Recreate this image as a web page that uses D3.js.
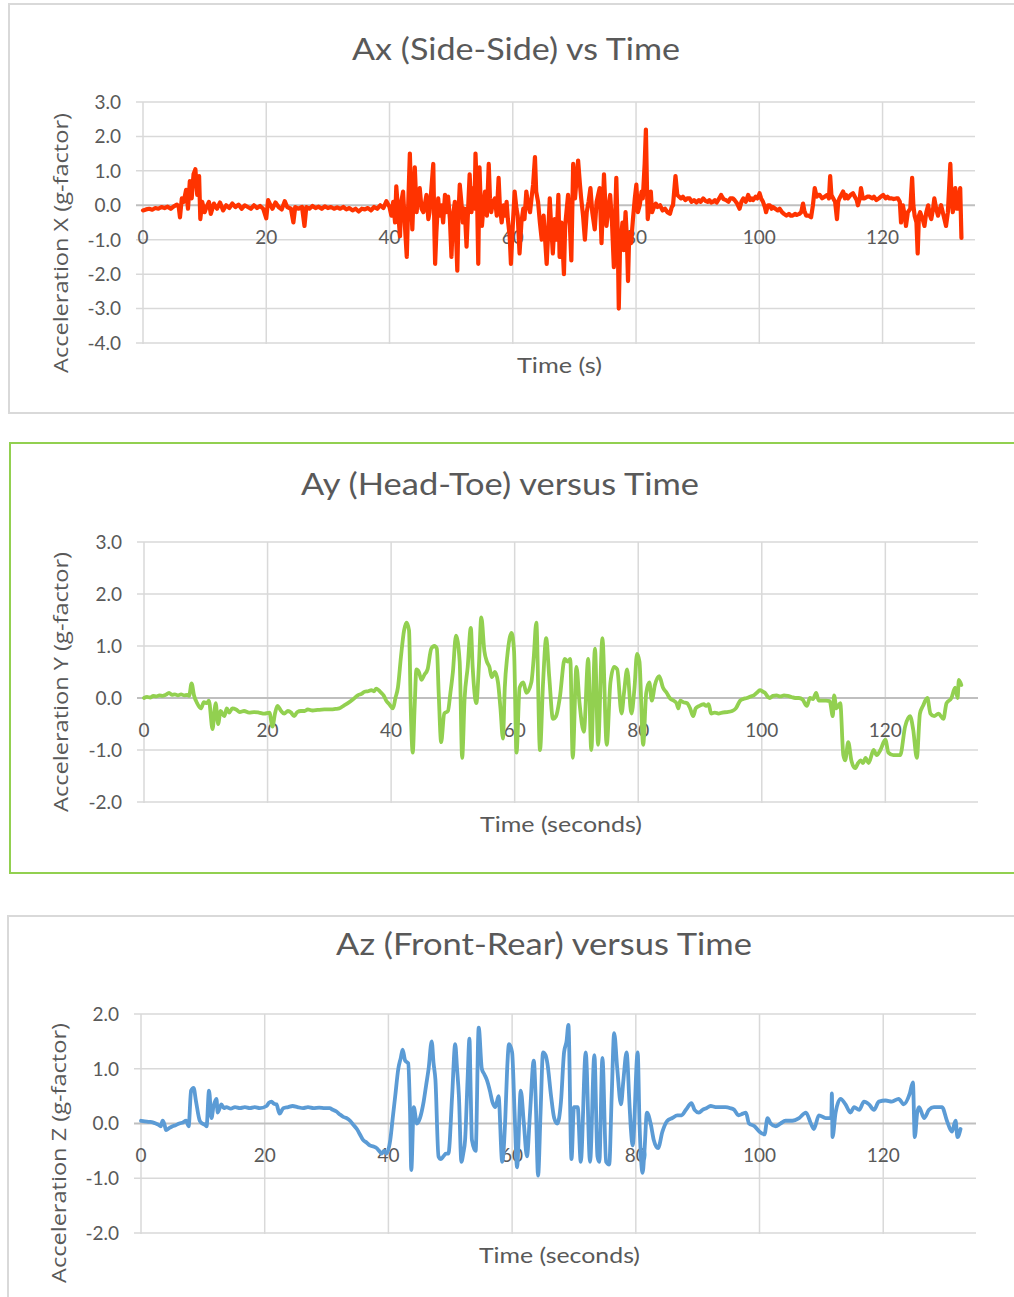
<!DOCTYPE html>
<html><head><meta charset="utf-8">
<script src="https://cdn.jsdelivr.net/npm/d3@7"></script>
<style>body{margin:0;background:#fff}svg{display:block}</style>
</head><body>
<svg id="c" width="1014" height="1297"></svg>
<script>
// ---------- DATA (time in s, acceleration in g) ----------
const axSeries = [
[0,-0.15],[0.5,-0.12],[1,-0.1],[1.5,-0.13],[2,-0.08],[2.5,-0.1],[3,-0.05],[3.5,-0.08],[4,-0.04],[4.5,-0.1],[5,-0.03],[5.5,0.02],[5.8,-0.05],[6,-0.35],[6.3,0.2],[6.6,0.1],[7,0.45],[7.3,-0.1],[7.6,0.7],[7.9,0.2],[8.2,0.9],[8.5,1.05],[8.8,0.3],[9.1,0.85],[9.3,-0.4],[9.6,0.1],[10,-0.2],[10.3,-0.05],[10.7,0.1],[11,-0.25],[11.5,0.05],[12,-0.1],[12.5,0.08],[13,-0.15],[13.5,0.0],[14,-0.08],[14.5,0.05],[15,-0.05],[15.5,0.02],[16,-0.1],[16.5,0.0],[17,-0.05],[17.5,-0.1],[18,0.0],[18.5,-0.08],[19,-0.02],[19.5,-0.1],[20,-0.38],[20.3,0.15],[20.7,0.0],[21,-0.1],[21.5,0.08],[22,-0.05],[22.5,-0.12],[23,0.12],[23.4,-0.05],[24,-0.1],[24.4,-0.5],[24.7,-0.05],[25.2,-0.1],[25.8,-0.05],[26.2,-0.6],[26.5,-0.05],[27,-0.1],[27.5,-0.02],[28,-0.08],[28.5,-0.04],[29,-0.1],[29.5,-0.03],[30,-0.08],[30.5,-0.05],[31,-0.1],[31.5,-0.06],[32,-0.1],[32.5,-0.05],[33,-0.12],[33.5,-0.08],[34,-0.15],[34.5,-0.1],[35,-0.18],[35.5,-0.1],[36,-0.12],[36.5,-0.08],[37,-0.15],[37.5,-0.05],[38,-0.1],[38.5,0.0],[39,-0.08],[39.5,0.12],
[40.0,-0.05],[40.3,-0.3],[40.6,0.1],[40.9,-0.5],[41.1,0.55],[41.4,-0.2],[41.7,-0.9],[41.9,0.1],[42.2,0.4],[42.5,-0.6],[42.8,-1.5],[43.0,-0.2],[43.3,1.5],[43.5,0.2],[43.7,-0.7],[43.9,0.3],[44.1,1.1],[44.4,-0.2],[44.6,0.2],[44.9,0.5],[45.2,-0.1],[45.5,-0.2],[45.8,0.1],[46.0,0.3],[46.3,-0.4],[46.5,-0.2],[46.8,0.5],[47.1,1.2],[47.3,-0.9],[47.4,-1.7],[47.6,-0.8],[47.9,0.2],[48.1,-0.3],[48.4,0.0],[48.7,-0.5],[49.0,0.3],[49.2,-0.2],[49.5,0.25],[49.8,-0.4],[50.05,-1.5],[50.3,-0.3],[50.6,0.1],[50.8,-0.9],[51.0,-1.9],[51.2,-0.2],[51.4,0.6],[51.7,0.0],[51.9,-0.5],[52.2,-0.1],[52.5,-1.2],[52.8,0.1],[53.0,0.9],[53.3,-0.2],[53.6,0.5],[53.8,-0.1],[53.95,1.5],[54.2,0.3],[54.4,-1.7],[54.6,1.1],[54.8,0.0],[55.0,-0.6],[55.3,0.1],[55.5,0.4],[55.8,-0.3],[56.1,1.2],[56.3,0.2],[56.5,-0.2],[56.8,0.1],[57.1,0.2],[57.4,-0.3],[57.7,0.8],[57.9,0.0],[58.2,-0.5],[58.5,0.0],[58.7,-0.3],[59.0,0.1],[59.2,-0.4],[59.5,-0.9],[59.7,-1.7],[60.0,-0.6],[60.3,0.4],[60.6,-0.1],[60.8,-0.3],[61.1,-1.4],[61.4,-0.5],[61.7,-0.1],[61.9,-0.4],[62.2,0.4],[62.5,0.0],[62.8,-0.2],[63.1,0.3],[63.3,0.6],[63.6,1.4],[63.8,0.4],[64.1,0.1],[64.4,-0.5],[64.7,-1.0],[65.0,-0.3],[65.5,-1.7],[65.8,-0.6],[66.0,0.2],[66.2,-0.5],[66.5,-1.4],[66.8,-0.4],[67.1,-1.0],[67.4,0.3],[67.6,-1.5],[67.9,-0.5],[68.3,-2.0],[68.5,-0.6],[68.97,0.3],[69.2,-0.3],[69.5,-1.6],[69.8,1.2],[70.1,0.2],[70.6,1.3],
[70.9,0.6],[71.1,0.2],[71.4,-0.3],[71.7,-1.0],[72.0,-0.2],[72.3,0.1],[72.6,0.5],[72.9,-0.2],[73.3,-0.7],[73.6,0.1],[74.1,0.5],[74.4,-1.1],[74.8,0.9],[75.0,0.1],[75.2,-0.6],[75.5,-0.1],[75.8,0.3],[76.1,-0.5],[76.4,-1.8],[76.6,-0.4],[76.8,0.8],[77.0,-0.6],[77.2,-3.0],[77.4,-1.2],[77.8,-0.5],[78.0,-1.3],[78.3,-0.2],[78.5,-0.9],[78.7,-2.2],[78.9,-0.8],[79.2,-1.1],[79.5,-0.4],[79.8,0.2],[80.05,0.6],[80.3,-0.2],[80.6,0.0],[80.9,0.4],[81.1,0.2],[81.4,1.2],[81.6,2.2],[81.8,0.3],[81.9,-0.4],[82.2,0.1],[82.4,0.4],[82.6,-0.2],[82.8,-0.1],[83.2,0.05],[83.5,-0.05],[83.9,0.0],[84.3,-0.15],[84.7,-0.1],[85.1,-0.2],[85.5,-0.25],[85.8,-0.05],[86.0,0.0],[86.4,0.85],[86.7,0.3],[87.0,0.25],[87.3,0.2],[87.6,0.25],[88.0,0.15],[88.3,0.2],[88.7,0.2],[89.0,0.1],[89.4,0.15],[89.8,0.08],[90.2,0.15],[90.5,0.1],[90.9,0.2],[91.3,0.12],[91.6,0.1],[91.9,0.15],[92.2,0.08],[92.5,0.1],[92.8,0.15],[93.1,0.08],[93.5,0.2],[93.8,0.3],[94.2,0.18],[94.6,0.15],[95.0,0.1],[95.3,0.2],[95.7,0.2],[96.0,0.15],[96.4,0.05],[96.8,-0.1],[97.1,0.1],[97.4,0.2],[97.8,0.1],[98.2,0.3],[98.5,0.15],[98.8,0.2],[99.0,0.15],[99.4,0.25],[99.7,0.2],[100.05,0.35],[100.3,0.2],[100.6,0.1],[100.9,-0.05],[101.1,-0.2],[101.4,0.0],[101.7,0.0],[102.0,-0.1],[102.2,-0.05],[102.6,-0.1],[103.0,-0.15],[103.3,-0.1],[103.7,-0.2],[104.0,-0.25],[104.4,-0.3],[104.8,-0.25],[105.1,-0.3],[105.4,-0.3],[105.8,-0.25],[106.1,-0.28],[106.5,-0.25],[106.8,-0.2],[107.1,0.05],[107.3,-0.15],[107.6,-0.3],[108.0,-0.3],[108.4,-0.35],[108.7,0.0],[109.0,0.5],[109.3,0.25],[109.6,0.3],[109.8,0.3],[110.2,0.2],[110.6,0.25],[111.0,0.3],[111.3,0.2],[111.5,0.85],[111.7,0.3],[112.0,0.2],[112.3,0.1],[112.6,-0.4],[112.8,0.1],[113.0,0.2],[113.3,0.3],[113.6,0.4],[113.9,0.2],[114.1,0.3],[114.4,0.2],[114.8,0.3],[115.2,0.35],[115.5,0.25],[115.8,0.15],[116.0,0.0],[116.3,0.2],[116.5,0.5],[116.8,0.2],[117.1,0.2],[117.5,0.25],[117.9,0.25],[118.3,0.2],[118.6,0.25],[119.0,0.15],[119.4,0.2],[119.7,0.25],[120.1,0.3],[120.5,0.2],[120.8,0.25],[121.1,0.2],[121.5,0.2],[121.8,0.18],[122.2,0.2],[122.5,0.2],[122.8,0.1],[123.0,-0.5],[123.2,-0.1],[123.3,0.0],[123.6,-0.3],[123.8,-0.6],[124.1,-0.2],[124.5,-0.1],[124.8,0.8],[125.0,0.0],[125.2,-0.3],[125.5,-0.5],[125.7,-1.4],[125.9,-0.3],[126.1,-0.2],[126.5,-0.4],[126.8,-0.6],[127.1,-0.2],[127.4,0.0],[127.7,-0.3],[127.9,-0.4],[128.2,-0.1],[128.4,0.2],[128.7,-0.1],[129.0,-0.3],[129.3,-0.1],[129.5,0.0],[129.9,-0.3],[130.3,-0.6],[130.6,-0.2],[131.0,1.2],[131.2,0.1],[131.4,-0.2],[131.6,0.2],[131.8,0.5],[132.0,-0.1],[132.2,-0.1],[132.4,0.3],[132.6,0.5],[132.8,-0.95]
];

const aySeries = [
[0,0.0],[0.5,0.02],[1,0.01],[1.5,0.04],[2,0.03],[2.5,0.05],[3,0.04],[3.5,0.06],[4.05,0.1],[4.5,0.06],[5,0.07],[5.5,0.05],[6,0.07],[6.5,0.05],[7,0.06],[7.3,0.04],[7.7,0.28],[8.1,0.05],[8.6,-0.1],[9.2,-0.2],[9.7,-0.08],[10.2,-0.1],[10.5,-0.05],[11.1,-0.6],[11.4,-0.25],[11.6,-0.1],[12.0,-0.5],[12.4,-0.25],[13.0,-0.35],[13.4,-0.2],[13.8,-0.28],[14.3,-0.2],[14.9,-0.22],[15.5,-0.27],[16.2,-0.25],[17.0,-0.28],[17.8,-0.27],[18.6,-0.28],[19.5,-0.3],[20.3,-0.28],[20.8,-0.55],[21.2,-0.3],[21.6,-0.15],[22.2,-0.25],[22.7,-0.3],[23.3,-0.25],[23.8,-0.28],[24.3,-0.35],[24.8,-0.27],[25.4,-0.25],[26.0,-0.25],[26.5,-0.22],[27.3,-0.24],[28.1,-0.23],[29.2,-0.22],[30.3,-0.22],[31.0,-0.21],[31.6,-0.2],[32.3,-0.15],[33.0,-0.1],[33.8,-0.03],[34.6,0.05],[35.2,0.08],[35.7,0.12],[36.3,0.13],[36.8,0.15],[37.2,0.13],[37.6,0.18],[38.0,0.15],[38.4,0.1],[38.8,0.05],[39.2,-0.05],[39.7,-0.12],[40.3,-0.2],[40.7,0.0],[41.1,0.2],[41.6,0.8],[42.1,1.3],[42.5,1.45],[42.9,1.3],[43.2,-0.3],[43.5,-1.05],[43.8,-0.2],[44.1,0.55],[44.5,0.5],[44.9,0.35],[45.4,0.45],[45.9,0.55],[46.5,0.95],[47.0,1.0],[47.4,0.95],[47.7,0.1],[48.1,-0.85],[48.6,-0.3],[49.2,-0.25],[49.6,0.1],[50.0,0.5],[50.5,1.2],[51.1,0.7],[51.5,-1.15],[51.9,0.0],[52.4,0.6],[52.9,1.35],[53.2,0.6],[53.8,-0.1],[54.2,0.6],[54.6,1.55],[55.1,0.9],[55.5,0.7],[55.9,0.6],[56.3,0.4],[56.8,0.5],[57.3,0.3],[57.7,-0.2],[58.1,-0.78],[58.4,0.2],[58.8,0.8],[59.5,1.25],[59.9,0.9],[60.3,-1.05],[60.8,0.2],[61.4,0.3],[61.9,0.1],[62.7,0.3],[63.1,0.8],[63.5,1.45],[64.1,-1.0],[64.6,0.3],[65.1,1.15],[65.6,0.4],[66.2,-0.4],[66.7,-0.35],[67.3,0.0],[68.1,0.75],[68.6,0.7],[69.0,0.75],[69.4,-1.15],[70.0,0.6],[70.5,-0.1],[71.2,-0.65],[71.9,0.75],[72.4,-1.0],[73.0,0.95],[73.5,-0.9],[74.2,1.15],[74.9,-0.9],[75.5,0.3],[76.1,0.6],[76.6,0.55],[77.3,-0.3],[77.7,0.1],[78.2,0.55],[78.9,-0.3],[79.4,0.2],[79.8,0.85],[80.2,0.7],[80.8,-0.9],[81.3,0.1],[81.8,0.3],[82.2,-0.05],[82.7,0.25],[83.4,0.42],[84.0,0.2],[84.6,0.1],[85.1,0.0],[85.7,-0.05],[86.2,-0.1],[86.5,-0.2],[86.8,-0.05],[87.3,-0.08],[87.9,-0.1],[88.4,-0.2],[88.9,-0.35],[89.3,-0.2],[89.9,-0.15],[90.6,-0.12],[91.0,-0.15],[91.4,-0.12],[91.8,-0.3],[92.4,-0.28],[93.0,-0.3],[93.6,-0.28],[94.4,-0.27],[95.2,-0.25],[95.8,-0.2],[96.5,-0.05],[97.0,-0.02],[97.6,0.0],[98.2,0.03],[98.7,0.05],[99.2,0.1],[99.7,0.15],[100.2,0.12],[100.5,0.1],[101.0,0.02],[101.3,0.0],[101.8,0.04],[102.4,0.05],[103.0,0.03],[103.6,0.05],[104.2,0.04],[104.8,0.02],[105.4,0.0],[106.0,0.0],[106.6,-0.03],[107.3,-0.15],[107.8,0.0],[108.3,-0.02],[108.8,0.1],[109.2,-0.05],[109.8,-0.05],[110.4,-0.05],[111.0,-0.06],[111.5,-0.35],[111.7,0.05],[112.1,-0.2],[112.7,-0.1],[113.2,-1.1],[113.5,-1.2],[114.0,-0.85],[114.5,-1.2],[115.1,-1.35],[115.6,-1.25],[116.0,-1.2],[116.4,-1.25],[116.8,-1.15],[117.3,-1.25],[118.1,-1.0],[118.6,-1.1],[119.2,-1.0],[120.0,-0.8],[120.5,-1.05],[121.3,-1.1],[122.4,-1.1],[123.2,-0.55],[124.0,-0.35],[124.5,-0.6],[125.1,-1.15],[125.6,-0.3],[126.1,-0.15],[126.8,0.0],[127.3,-0.3],[127.9,-0.35],[128.6,-0.3],[129.4,-0.4],[129.9,-0.1],[130.7,0.0],[131.3,0.2],[131.7,0.0],[131.9,0.35],[132.3,0.25]
];

const azSeries = [
[0,0.05],[0.6,0.04],[1.35,0.03],[1.9,0.02],[2.4,0.0],[2.8,-0.02],[3.2,-0.05],[3.5,0.05],[3.8,-0.02],[4.05,-0.12],[4.6,-0.08],[5.1,-0.05],[5.6,-0.03],[6.2,0.0],[6.8,0.02],[7.3,0.05],[7.7,-0.05],[8.1,0.6],[8.5,0.65],[8.9,0.4],[9.5,0.05],[9.9,0.0],[10.3,-0.02],[10.6,-0.05],[11.0,0.6],[11.4,0.1],[11.7,0.3],[12.2,0.45],[12.4,0.2],[13.0,0.35],[13.4,0.28],[13.8,0.3],[14.5,0.27],[15.2,0.3],[16.0,0.28],[16.8,0.3],[17.6,0.28],[18.4,0.3],[19.2,0.28],[20.3,0.32],[20.7,0.38],[21.1,0.4],[21.5,0.36],[21.9,0.35],[22.4,0.18],[23.0,0.28],[23.8,0.3],[24.5,0.32],[25.3,0.3],[26.2,0.28],[27.0,0.3],[27.9,0.28],[28.8,0.29],[29.7,0.28],[30.5,0.28],[31.0,0.25],[31.6,0.22],[32.1,0.17],[32.7,0.12],[33.2,0.1],[33.8,0.05],[34.3,-0.02],[34.9,-0.1],[35.4,-0.2],[35.9,-0.3],[36.5,-0.35],[37.0,-0.4],[37.6,-0.42],[38.1,-0.45],[38.5,-0.5],[38.9,-0.55],[39.3,-0.5],[39.7,-0.55],[40.3,-0.3],[40.7,0.1],[41.1,0.5],[41.6,1.0],[42.0,1.2],[42.3,1.35],[42.7,1.15],[43.2,1.1],[43.5,0.2],[43.7,-0.85],[44.1,0.3],[44.6,0.0],[45.1,0.1],[45.7,0.4],[46.1,0.7],[46.5,1.0],[47.0,1.5],[47.3,1.1],[47.6,0.8],[48.1,-0.6],[48.5,-0.65],[48.9,-0.6],[49.3,-0.55],[49.7,-0.55],[50.3,0.5],[50.8,1.45],[51.1,1.0],[51.4,0.5],[51.8,-0.7],[52.1,-0.55],[52.4,-0.3],[52.8,0.8],[53.1,1.55],[53.3,0.6],[53.5,-0.3],[54.1,-0.5],[54.6,1.75],[55.1,1.0],[55.5,0.9],[55.9,0.8],[56.4,0.6],[56.8,0.4],[57.3,0.3],[57.8,0.5],[58.4,-0.7],[58.9,0.1],[59.2,1.0],[59.5,1.45],[60.0,1.3],[60.4,0.2],[60.8,-0.8],[61.4,0.6],[61.9,0.0],[62.4,-0.6],[62.9,0.2],[63.5,1.15],[63.8,0.5],[64.2,-0.95],[64.6,0.2],[65.0,1.3],[65.4,1.25],[65.7,1.1],[66.3,0.5],[66.8,0.1],[67.3,0.0],[67.9,0.4],[68.4,1.3],[68.8,1.5],[69.1,1.8],[69.6,-0.65],[70.0,0.3],[70.6,0.3],[71.1,-0.7],[71.9,1.3],[72.6,-0.7],[73.3,1.25],[73.8,-0.6],[74.1,-0.7],[74.6,1.2],[75.2,-0.7],[75.7,-0.75],[76.1,0.5],[76.5,1.65],[77.0,1.0],[77.6,0.35],[78.0,0.8],[78.5,1.3],[79.0,0.3],[79.2,-0.1],[79.5,-0.4],[80.3,1.3],[80.6,0.0],[81.1,-0.9],[81.4,-0.5],[81.8,0.2],[82.4,0.0],[82.9,-0.3],[83.6,-0.45],[84.3,-0.15],[85.1,0.05],[85.9,0.1],[86.7,0.15],[87.4,0.15],[88.1,0.25],[89.0,0.37],[89.5,0.25],[90.2,0.2],[90.8,0.25],[91.4,0.28],[92.1,0.32],[92.9,0.3],[93.7,0.3],[94.5,0.3],[95.3,0.28],[95.9,0.25],[96.6,0.15],[97.3,0.18],[97.8,0.2],[98.3,0.0],[99.2,-0.05],[100.0,-0.15],[100.8,-0.2],[101.3,0.1],[101.8,0.0],[102.6,-0.05],[103.4,0.0],[104.2,0.05],[105.3,0.05],[106.4,0.1],[107.5,0.2],[108.3,0.0],[108.8,-0.1],[109.6,0.15],[110.7,0.1],[111.6,0.1],[111.7,0.55],[111.8,-0.25],[112.3,0.2],[113.1,0.45],[113.9,0.35],[114.7,0.2],[115.3,0.3],[116.1,0.25],[116.9,0.4],[117.7,0.35],[118.5,0.25],[119.3,0.4],[120.4,0.42],[121.4,0.4],[122.5,0.45],[123.3,0.35],[124.3,0.55],[124.8,0.75],[125.1,-0.25],[125.5,0.2],[125.8,0.3],[126.6,0.1],[127.4,0.25],[128.2,0.3],[129.0,0.3],[129.5,0.3],[130.3,0.05],[131.1,-0.15],[131.7,0.05],[132.0,-0.25],[132.5,-0.1]
];

const xTicks = [0, 20, 40, 60, 80, 100, 120];
const axYTicks = [3, 2, 1, 0, -1, -2, -3, -4];
const ayYTicks = [3, 2, 1, 0, -1, -2];
const azYTicks = [2, 1, 0, -1, -2];
const chartTitles = ["Ax (Side-Side) vs Time", "Ay (Head-Toe) versus Time", "Az (Front-Rear) versus Time"];
const xAxisTitles = ["Time (s)", "Time (seconds)", "Time (seconds)"];
const yAxisTitles = ["Acceleration X (g-factor)", "Acceleration Y (g-factor)", "Acceleration Z (g-factor)"];
const seriesColors = ["#ff3300", "#92d050", "#5b9bd5"];

// ---------- LAYOUT ----------
const panels = [
  {data: axSeries, yTicks: axYTicks, color: seriesColors[0], title: chartTitles[0], xt: xAxisTitles[0], yt: yAxisTitles[0],
   box: [9, 4, 1030, 409], border: "#d9d9d9",
   x0: 143, x1: 975, yTop: 102, yBot: 343,
   titleX: 516, titleY: 60, titleW: 328, xtX: 559.5, xtY: 373, xtW: 85, ytX: 68, ytY: 243, ytW: 260, sw: 4.2, smooth: false},
  {data: aySeries, yTicks: ayYTicks, color: seriesColors[1], title: chartTitles[1], xt: xAxisTitles[1], yt: yAxisTitles[1],
   box: [10, 443, 1030, 430], border: "#92d050",
   x0: 144, x1: 978, yTop: 542, yBot: 802,
   titleX: 500, titleY: 495, titleW: 398, xtX: 561, xtY: 832, xtW: 162, ytX: 68, ytY: 682, ytW: 260, sw: 3.8, smooth: true},
  {data: azSeries, yTicks: azYTicks, color: seriesColors[2], title: chartTitles[2], xt: xAxisTitles[2], yt: yAxisTitles[2],
   box: [8, 916, 1030, 420], border: "#d9d9d9",
   x0: 141, x1: 976, yTop: 1014, yBot: 1233,
   titleX: 544, titleY: 955, titleW: 416, xtX: 559.5, xtY: 1263, xtW: 161, ytX: 66, ytY: 1153, ytW: 260, sw: 3.8, smooth: true}
];

const svg = d3.select("#c");
svg.append("rect").attr("width", 1014).attr("height", 1297).attr("fill", "#fff");
const txt = "#595959";
const fmt = v => v.toFixed(1);

panels.forEach(p => {
  const g = svg.append("g");
  g.append("rect").attr("x", p.box[0]).attr("y", p.box[1]).attr("width", p.box[2]).attr("height", p.box[3])
    .attr("fill", "#fff").attr("stroke", p.border).attr("stroke-width", 2);

  const yMax = d3.max(p.yTicks), yMin = d3.min(p.yTicks);
  const x = d3.scaleLinear().domain([0, 135]).range([p.x0, p.x1]);
  const y = d3.scaleLinear().domain([yMin, yMax]).range([p.yBot, p.yTop]);

  // horizontal gridlines with outside tick marks
  g.selectAll(".hg").data(p.yTicks.filter(v => v !== 0)).join("line")
    .attr("x1", p.x0 - 7).attr("x2", p.x1).attr("y1", d => y(d)).attr("y2", d => y(d))
    .attr("stroke", "#d9d9d9").attr("stroke-width", 1.5);
  // vertical gridlines
  g.selectAll(".vg").data(xTicks).join("line")
    .attr("x1", d => x(d)).attr("x2", d => x(d)).attr("y1", p.yTop).attr("y2", p.yBot + 1)
    .attr("stroke", "#d9d9d9").attr("stroke-width", 1.5);
  // zero axis line
  g.append("line").attr("x1", p.x0 - 7).attr("x2", p.x1).attr("y1", y(0)).attr("y2", y(0))
    .attr("stroke", "#bfbfbf").attr("stroke-width", 2);

  // y tick labels
  g.selectAll(".yl").data(p.yTicks).join("text")
    .attr("x", p.x0 - 22).attr("y", d => y(d)).attr("dy", "0.36em")
    .attr("text-anchor", "end").attr("fill", txt)
    .style("font-family", "Lato, 'Open Sans', sans-serif").style("font-size", "19px")
    .text(fmt);
  // x tick labels (next to zero axis)
  g.selectAll(".xl").data(xTicks).join("text")
    .attr("x", d => x(d)).attr("y", y(0) + 38.5)
    .attr("text-anchor", "middle").attr("fill", txt)
    .style("font-family", "Lato, 'Open Sans', sans-serif").style("font-size", "19px")
    .text(d => d);

  // series line
  const line = d3.line().x(d => x(d[0])).y(d => y(d[1]));
  if (p.smooth) line.curve(d3.curveMonotoneX);
  g.append("path").datum(p.data).attr("d", line)
    .attr("fill", "none").attr("stroke", p.color).attr("stroke-width", p.sw)
    .attr("stroke-linejoin", "round").attr("stroke-linecap", "round");

  // titles
  g.append("text").attr("x", p.titleX).attr("y", p.titleY).attr("text-anchor", "middle")
    .attr("fill", txt).style("font-family", "Lato, sans-serif").style("font-size", "31px")
    .attr("textLength", p.titleW).attr("lengthAdjust", "spacingAndGlyphs").text(p.title);
  g.append("text").attr("x", p.xtX).attr("y", p.xtY).attr("text-anchor", "middle")
    .attr("fill", txt).style("font-family", "Lato, sans-serif").style("font-size", "22px")
    .attr("textLength", p.xtW).attr("lengthAdjust", "spacingAndGlyphs").text(p.xt);
  g.append("text").attr("transform", `translate(${p.ytX},${p.ytY}) rotate(-90)`)
    .attr("text-anchor", "middle").attr("fill", txt)
    .style("font-family", "'Open Sans', 'DejaVu Sans', sans-serif").style("font-size", "19.5px")
    .attr("textLength", p.ytW).attr("lengthAdjust", "spacingAndGlyphs").text(p.yt);
});
</script>
</body></html>
